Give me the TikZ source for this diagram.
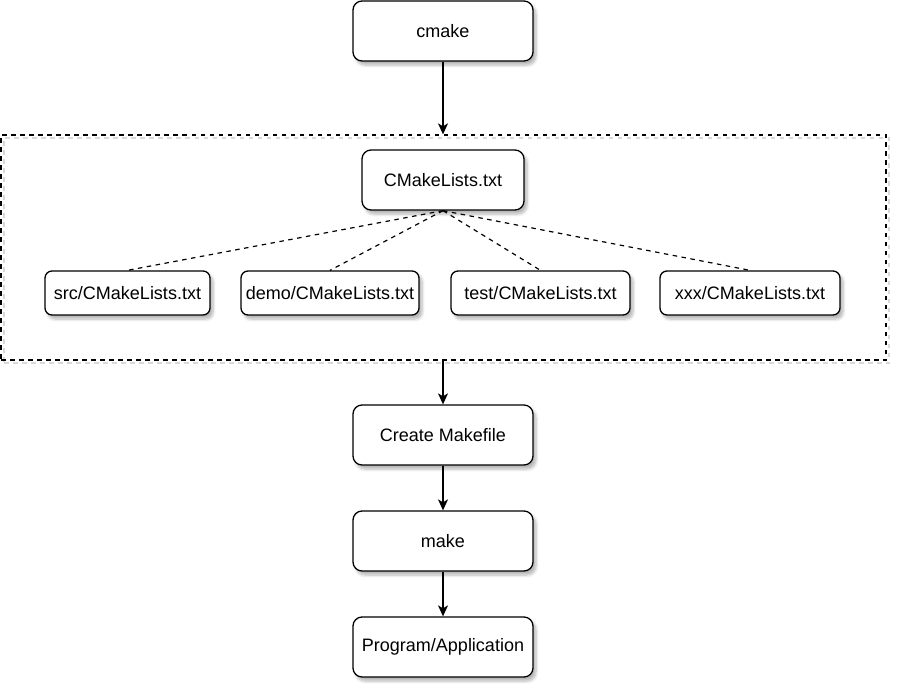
\documentclass[tikz,border=0pt]{standalone}
\usepackage{fontspec}
\setmainfont{Liberation Sans}
\usetikzlibrary{arrows.meta,shadows.blur}
\begin{document}
\begin{tikzpicture}[x=1pt,y=-1pt,
  soft/.style={blur shadow={shadow xshift=3pt,shadow yshift=-4pt,shadow blur radius=3pt,shadow opacity=30,shadow blur steps=6}},
  box/.style={draw=black,line width=1.3pt,fill=white,rounded corners=9pt,
    minimum width=180pt,minimum height=60pt,inner sep=0pt,
    font=\fontsize{18}{22}\selectfont,soft},
  subbox/.style={box,rounded corners=7pt,minimum height=44pt},
  frame/.style={draw=black,line width=1.3pt,dash pattern=on 4.5pt off 4.5pt,
    minimum width=885pt,minimum height=225pt,inner sep=0pt},
  frameshadow/.style={draw=black!15,line width=2pt,dash pattern=on 4.5pt off 4.5pt,
    minimum width=885pt,minimum height=225pt,inner sep=0pt},
  arr/.style={line width=1.3pt,-{Stealth[length=11pt,width=10pt,inset=3pt]}},
  link/.style={line width=1.2pt,dash pattern=on 4.5pt off 4.5pt}
]
\useasboundingbox (0,0) rectangle (903,693);

% dashed container (with a faint offset copy as its shadow)
\node[frameshadow] at (446.5,250.5) {};
\node[frame] (cont) at (443.5,247.5) {};

% main flow
\node[box] (cmake) at (443,31) {cmake};
\node[box,minimum width=162pt] (top) at (443,180) {CMakeLists.txt};

\node[subbox,minimum width=165pt] (src)  at (127.5,293) {src/CMakeLists.txt};
\node[subbox,minimum width=178pt] (demo) at (330,293) {demo/CMakeLists.txt};
\node[subbox,minimum width=179pt] (test) at (540.5,293) {test/CMakeLists.txt};
\node[subbox,minimum width=180pt] (xxx)  at (750,293) {xxx/CMakeLists.txt};

\node[box] (mkfile) at (443,435) {Create Makefile};
\node[box] (make)   at (443,541) {make};
\node[box] (app)    at (443,647) {Program/Application};

% connectors
\draw[arr] (cmake.south) -- (cmake.south |- cont.north);
\foreach \c in {src,demo,test,xxx}
  \draw[link] (top.south) -- (\c.north);
\draw[arr] (mkfile.north |- cont.south) -- (mkfile.north);
\draw[arr] (mkfile.south) -- (make.north);
\draw[arr] (make.south) -- (app.north);
\end{tikzpicture}
\end{document}
